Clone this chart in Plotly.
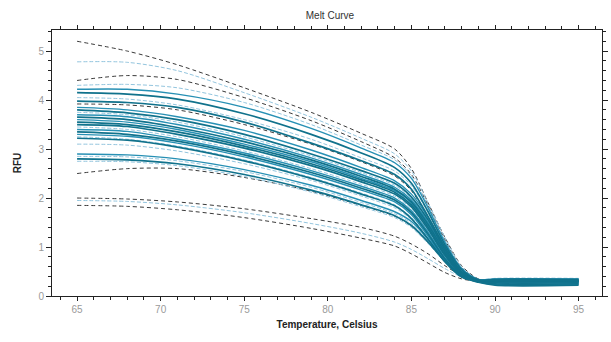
import plotly.graph_objects as go

# Temperatures (Celsius) at which each curve was read
temps = [65, 68, 71, 75, 79, 82, 84, 85, 86, 87, 88, 89, 90, 95]

# RFU values, one list per curve
a1 = [5.20, 5.00, 4.72, 4.25, 3.75, 3.32, 3.00, 2.60, 1.90, 1.20, 0.62, 0.35, 0.31, 0.31]
a2 = [4.78, 4.77, 4.60, 4.15, 3.65, 3.22, 2.90, 2.55, 1.90, 1.20, 0.60, 0.34, 0.30, 0.30]
a3 = [4.40, 4.50, 4.42, 4.05, 3.58, 3.15, 2.82, 2.48, 1.85, 1.15, 0.58, 0.34, 0.30, 0.30]
a4 = [4.22, 4.22, 4.12, 3.85, 3.42, 3.02, 2.72, 2.40, 1.80, 1.10, 0.56, 0.34, 0.35, 0.35]
a5 = [4.15, 4.12, 4.02, 3.72, 3.30, 2.92, 2.62, 2.30, 1.72, 1.05, 0.54, 0.33, 0.30, 0.30]
a6 = [4.05, 4.02, 3.90, 3.60, 3.20, 2.82, 2.55, 2.25, 1.70, 1.05, 0.52, 0.32, 0.28, 0.28]
a7 = [3.98, 3.95, 3.85, 3.55, 3.12, 2.76, 2.48, 2.18, 1.62, 1.00, 0.50, 0.32, 0.31, 0.31]
a8 = [3.92, 3.90, 3.80, 3.50, 3.10, 2.74, 2.45, 2.15, 1.60, 0.98, 0.50, 0.32, 0.29, 0.29]
l1 = [4.30, 4.32, 4.25, 3.95, 3.50, 3.08, 2.78, 2.45, 1.84, 1.14, 0.57, 0.33, 0.27, 0.27]
b1 = [3.85, 3.80, 3.66, 3.38, 2.98, 2.62, 2.35, 2.08, 1.60, 0.98, 0.50, 0.32, 0.30, 0.30]
b2 = [3.80, 3.74, 3.60, 3.30, 2.90, 2.56, 2.30, 2.02, 1.55, 0.95, 0.48, 0.30, 0.25, 0.25]
b3 = [3.75, 3.70, 3.55, 3.25, 2.86, 2.52, 2.26, 2.00, 1.52, 0.93, 0.47, 0.32, 0.34, 0.34]
b4 = [3.70, 3.66, 3.50, 3.20, 2.82, 2.48, 2.22, 1.96, 1.50, 0.92, 0.47, 0.31, 0.28, 0.28]
b5 = [3.65, 3.60, 3.44, 3.15, 2.78, 2.44, 2.18, 1.92, 1.46, 0.90, 0.46, 0.32, 0.33, 0.33]
b6 = [3.60, 3.55, 3.40, 3.10, 2.74, 2.40, 2.15, 1.90, 1.42, 0.88, 0.45, 0.29, 0.24, 0.24]
b7 = [3.55, 3.50, 3.35, 3.06, 2.70, 2.37, 2.12, 1.86, 1.40, 0.85, 0.44, 0.31, 0.30, 0.30]
b8 = [3.50, 3.46, 3.30, 3.02, 2.66, 2.33, 2.08, 1.82, 1.36, 0.83, 0.43, 0.30, 0.27, 0.27]
b9 = [3.45, 3.40, 3.25, 2.96, 2.60, 2.28, 2.04, 1.78, 1.33, 0.80, 0.42, 0.33, 0.36, 0.36]
b10 = [3.40, 3.36, 3.20, 2.92, 2.56, 2.24, 2.00, 1.74, 1.30, 0.78, 0.41, 0.30, 0.29, 0.29]
b11 = [3.35, 3.30, 3.16, 2.88, 2.52, 2.20, 1.96, 1.70, 1.26, 0.76, 0.40, 0.28, 0.22, 0.22]
b12 = [3.30, 3.26, 3.12, 2.84, 2.48, 2.16, 1.92, 1.66, 1.22, 0.74, 0.40, 0.31, 0.32, 0.32]
b13 = [3.25, 3.20, 3.06, 2.78, 2.42, 2.10, 1.86, 1.60, 1.18, 0.72, 0.40, 0.30, 0.26, 0.26]
b14 = [3.22, 3.18, 3.04, 2.76, 2.40, 2.08, 1.84, 1.58, 1.16, 0.70, 0.39, 0.31, 0.34, 0.34]
l2 = [3.10, 3.08, 2.96, 2.70, 2.36, 2.04, 1.80, 1.56, 1.16, 0.72, 0.40, 0.29, 0.23, 0.23]
c1 = [2.90, 2.88, 2.80, 2.58, 2.26, 1.95, 1.72, 1.52, 1.16, 0.75, 0.42, 0.31, 0.30, 0.30]
c2 = [2.85, 2.84, 2.76, 2.54, 2.22, 1.91, 1.68, 1.48, 1.13, 0.73, 0.41, 0.30, 0.26, 0.26]
c3 = [2.80, 2.78, 2.70, 2.48, 2.16, 1.86, 1.64, 1.44, 1.10, 0.71, 0.40, 0.31, 0.32, 0.32]
c4 = [2.75, 2.74, 2.66, 2.44, 2.12, 1.82, 1.60, 1.40, 1.07, 0.70, 0.40, 0.30, 0.28, 0.28]
c5 = [2.50, 2.60, 2.60, 2.42, 2.14, 1.85, 1.63, 1.43, 1.09, 0.71, 0.40, 0.30, 0.29, 0.29]
d1 = [2.00, 1.98, 1.92, 1.78, 1.58, 1.40, 1.22, 1.06, 0.86, 0.62, 0.42, 0.32, 0.29, 0.29]
d2 = [1.95, 1.93, 1.86, 1.70, 1.48, 1.28, 1.10, 0.95, 0.76, 0.56, 0.39, 0.31, 0.27, 0.27]
d3 = [1.85, 1.83, 1.76, 1.60, 1.38, 1.18, 1.02, 0.86, 0.67, 0.48, 0.35, 0.30, 0.30, 0.30]

x_ticks = [65, 70, 75, 80, 85, 90, 95]
y_ticks = [0, 1, 2, 3, 4, 5]

BLACK = "#3a3a3a"
DARK = "#10728c"
TEAL = "#2790b4"
LIGHT = "#93c5de"

# drawing order: black first (underneath), then light, teal, dark teal
series = [
    (a1, BLACK), (a3, BLACK), (a8, BLACK), (c5, BLACK), (d1, BLACK), (d3, BLACK),
    (a2, LIGHT), (a6, LIGHT), (l1, LIGHT), (l2, LIGHT), (c2, LIGHT), (c4, LIGHT), (d2, LIGHT),
    (b3, LIGHT), (b9, LIGHT), (b13, LIGHT),
    (a4, TEAL), (b1, TEAL), (b4, TEAL), (b6, TEAL), (b10, TEAL), (b12, TEAL), (c1, TEAL),
    (a5, DARK), (a7, DARK), (b2, DARK), (b5, DARK), (b7, DARK), (b8, DARK), (b11, DARK),
    (b14, DARK), (c3, DARK),
]
widths = {LIGHT: 1.0, TEAL: 1.4, DARK: 1.7, BLACK: 1.0}
dashes = {LIGHT: "4px,2px", TEAL: "solid", DARK: "solid", BLACK: "4px,3px"}

fig = go.Figure()
for vals, col in series:
    fig.add_trace(go.Scatter(
        x=temps, y=vals, mode="lines",
        line=dict(color=col, width=widths[col], dash=dashes[col], shape="spline", smoothing=0.8),
        hoverinfo="skip", showlegend=False,
    ))

XR = [63.5, 96.4]
YR = [0, 5.43]
axis_font = dict(family="Liberation Sans, Arial, sans-serif", size=10, color="#9a9a9a")

fig.update_layout(
    width=611, height=342,
    margin=dict(l=52, r=3, t=30, b=46),
    paper_bgcolor="white", plot_bgcolor="white",
    title=dict(text="Melt Curve", x=0.54, xanchor="center", y=0.955, yanchor="middle",
               font=dict(family="Liberation Sans, Arial, sans-serif", size=10, color="#333")),
    xaxis=dict(range=XR, tickvals=x_ticks, ticks="outside", ticklen=4, tickcolor="#222",
               showline=True, linecolor="#222", linewidth=1, mirror="ticks",
               showgrid=False, zeroline=False, tickfont=axis_font,
               minor=dict(dtick=1, ticks="outside", ticklen=3, tickcolor="#222"),
               title=dict(text="<b>Temperature, Celsius</b>", standoff=6,
                          font=dict(family="Liberation Sans, Arial, sans-serif", size=10, color="#222"))),
    yaxis=dict(range=YR, tickvals=y_ticks, ticks="outside", ticklen=5, tickcolor="#222",
               showline=True, linecolor="#222", linewidth=1, mirror="ticks",
               showgrid=False, zeroline=False, tickfont=axis_font,
               minor=dict(dtick=0.2, ticks="outside", ticklen=3, tickcolor="#222"),
               title=dict(text="<b>RFU</b>", standoff=14,
                          font=dict(family="Liberation Sans, Arial, sans-serif", size=10, color="#222"))),
    xaxis2=dict(range=XR, overlaying="x", tickvals=x_ticks, ticks="inside", ticklen=4,
                tickcolor="#222", showticklabels=False, showgrid=False, zeroline=False,
                showline=False, mirror="ticks",
                minor=dict(dtick=1, ticks="inside", ticklen=2, tickcolor="#222")),
    yaxis2=dict(range=YR, overlaying="y", tickvals=y_ticks, ticks="inside", ticklen=5,
                tickcolor="#222", showticklabels=False, showgrid=False, zeroline=False,
                showline=False, mirror="ticks",
                minor=dict(dtick=0.2, ticks="inside", ticklen=3, tickcolor="#222")),
)

fig.write_html("out.html")
